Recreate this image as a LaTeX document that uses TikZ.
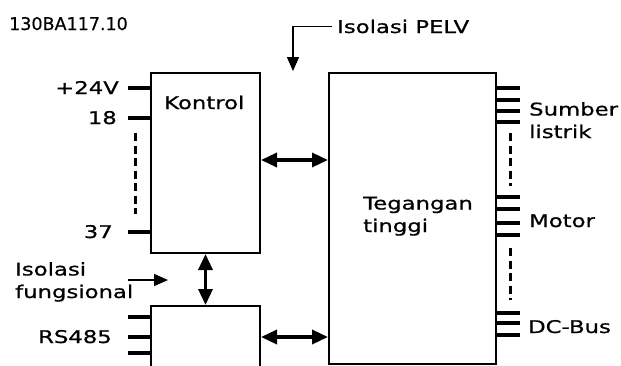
\documentclass[tikz,border=0pt]{standalone}
\usepackage{fontspec}
\setmainfont{DejaVu Sans}[FakeStretch=1.3,FakeBold=0.8]
\newfontfamily\codefont{DejaVu Sans}[FakeBold=0.5]
\usetikzlibrary{arrows.meta,positioning}

\begin{document}
\begin{tikzpicture}[x=1pt,y=-1pt,
  font=\fontsize{17.5}{22.5}\selectfont,
  box/.style={draw,line width=2pt,anchor=north west,inner sep=0pt},
  stub/.style={line width=3.4pt},
  gapline/.style={line width=3pt,dash pattern=on 8pt off 4.5pt},
  dbl/.style={{Triangle[length=16pt,width=14pt]}-{Triangle[length=16pt,width=14pt]},line width=3.4pt},
  iso/.style={-{Triangle[length=14pt,width=12pt]},line width=1.5pt},
  lbl/.style={inner sep=0pt,align=left}]

\useasboundingbox (0,0) rectangle (621,365);

% blocks
\node[box,minimum width=109pt,minimum height=180pt] (kontrol) at (150,72) {};
\node[box,minimum width=109pt,minimum height=90pt] (serial) at (150,305) {};
\node[box,minimum width=167pt,minimum height=291pt] (hv) at (328,72) {};

\node[lbl,anchor=base west] (kontrol-t) at (164,109) {Kontrol};
\node[lbl,anchor=base west] (hv-t) at (363,232) {Tegangan\\tinggi};
\node[lbl,anchor=base west] (code) at (9,30) {\codefont 130BA117.10};

% control terminals
\node[lbl,anchor=base east] (v24) at (119,94) {+24V};
\node[lbl,anchor=base east] (t18) at (117,124) {18};
\node[lbl,anchor=base east] (t37) at (113,238) {37};
\foreach \y in {88,118,232}
  \draw[stub] (128,\y) -- (kontrol.west |- 0,\y);
\draw[gapline] (135,133) -- (135,214);

% serial terminals
\node[lbl,anchor=base east] (rs) at (112,343) {RS485};
\foreach \y in {317,337,353}
  \draw[stub] (128,\y) -- (serial.west |- 0,\y);

% power terminals
\foreach \y in {88,100,111,122,197,209,223,235,313,323,335}
  \draw[stub] (hv.east |- 0,\y) -- ++(23,0);
\draw[gapline] (510,133) -- (510,186);
\draw[gapline] (510,248) -- (510,300);
\node[lbl,anchor=base west] (mains) at (529,138) {Sumber\\listrik};
\node[lbl,anchor=base west] (motor) at (529,227) {Motor};
\node[lbl,anchor=base west] (dcbus) at (528,333) {DC-Bus};

% links
\draw[dbl] (kontrol.east |- 0,160) -- (hv.west |- 0,160);
\draw[dbl] (serial.east |- 0,337) -- (hv.west |- 0,337);
\draw[dbl] (kontrol.south) -- (serial.north);

% isolation marks
\node[lbl,anchor=base west] (pelv) at (337,33) {Isolasi PELV};
\coordinate (pelvtip) at (293,71);
\draw[iso] ([xshift=-5pt]pelv.west) -| (pelvtip);
\node[lbl,anchor=base west] (func) at (15,298) {Isolasi\\fungsional};
\coordinate (functip) at (168,280);
\draw[iso] (128,280) -- (functip);
\end{tikzpicture}
\end{document}
